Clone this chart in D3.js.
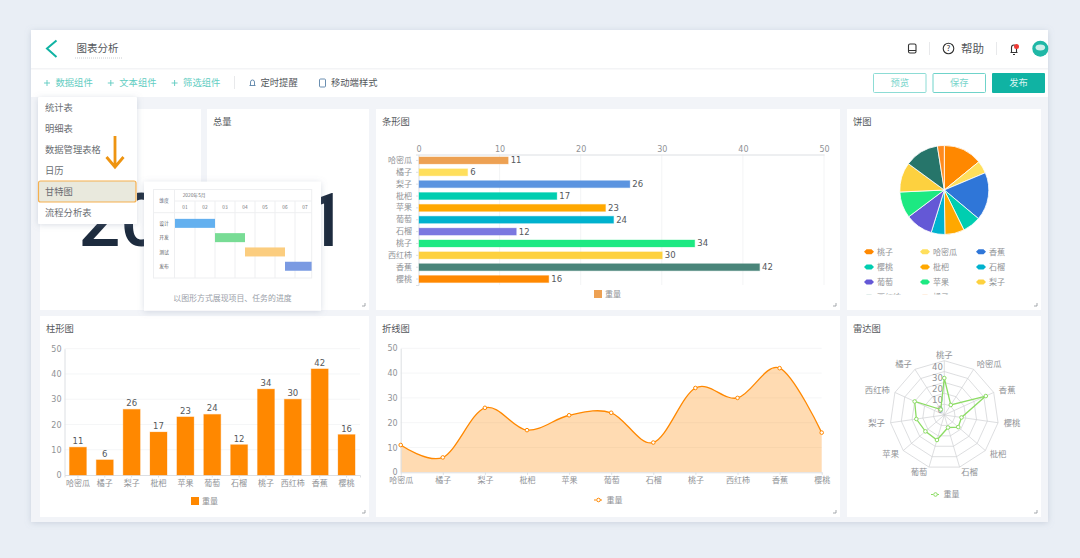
<!DOCTYPE html>
<html>
<head>
<meta charset="utf-8">
<script src="https://cdn.jsdelivr.net/npm/d3@7"></script>
<style>
  html, body { margin: 0; padding: 0; background: #e9eef5; overflow: hidden; }
  text { font-family: "DejaVu Sans", "Noto Sans CJK SC", sans-serif; }
  .cjk { font-family: "Noto Sans CJK SC", sans-serif; }
  .axis path, .axis line { stroke: #dcdfe3; }
  .axis text { fill: #8f9296; font-size: 8px; }
</style>
</head>
<body>
<svg id="page" width="1080" height="558"></svg>
<script>
// Data
var fruits = ["哈密瓜", "橘子", "梨子", "枇杷", "苹果", "葡萄", "石榴", "桃子", "西红柿", "香蕉", "樱桃"];
var weights = [11, 6, 26, 17, 23, 24, 12, 34, 30, 42, 16];
var barColors = ["#eda153", "#ffdf5c", "#5b94e0", "#00ceb0", "#ffa800", "#00b2ce", "#7b78e0", "#1de982", "#fdd13f", "#4a857a", "#ff8800"];

// pie and radar run in another order
var pieFruits = ["桃子", "哈密瓜", "香蕉", "樱桃", "枇杷", "石榴", "葡萄", "苹果", "梨子", "西红柿", "橘子"];
var pieWeights = [34, 11, 42, 16, 17, 12, 24, 23, 26, 30, 6];
var pieColors = ["#ff8800", "#ffdf5c", "#2f76d8", "#00ceb0", "#ffa800", "#00b2ce", "#6458d6", "#1de982", "#fdd13f", "#26756a", "#ff8a1e"];

var valueTicks = [0, 10, 20, 30, 40, 50];
var radarTicks = [0, 10, 20, 30, 40];

var ganttDays = ["01", "02", "03", "04", "05", "06", "07"];
var ganttTasks = ["设计", "开发", "测试", "发布"];
var ganttStart = [0, 2, 3.5, 5.5];
var ganttEnd = [2, 3.5, 5.5, 6.83];
var ganttColors = ["#63b0ef", "#78dc95", "#fbcd7f", "#7a9ae2"];

var menuItems = ["统计表", "明细表", "数据管理表格", "日历", "甘特图", "流程分析表"];
var toolAdd = ["数据组件", "文本组件", "筛选组件"];

var teal = "#10b3a3";
var svg = d3.select("#page");

function label(g, x, y, str, size, color, anchor) {
  return g.append("text")
    .attr("x", x)
    .attr("y", y)
    .attr("dy", "0.35em")
    .attr("class", "cjk")
    .attr("font-size", size)
    .attr("fill", color)
    .attr("text-anchor", anchor || "start")
    .text(str);
}

// Frame
var defs = svg.append("defs");
var soft = defs.append("filter").attr("id", "soft").attr("x", "-20%").attr("y", "-20%").attr("width", "140%").attr("height", "140%");
soft.append("feDropShadow").attr("dx", 0).attr("dy", 1).attr("stdDeviation", 3).attr("flood-color", "#8090a8").attr("flood-opacity", 0.3);

svg.append("rect").attr("x", 31).attr("y", 30).attr("width", 1017).attr("height", 492).attr("fill", "#f2f4f8").attr("filter", "url(#soft)");
svg.append("rect").attr("x", 31).attr("y", 30).attr("width", 1017).attr("height", 38).attr("fill", "#fff");
svg.append("rect").attr("x", 31).attr("y", 69).attr("width", 1017).attr("height", 28).attr("fill", "#fff");
svg.append("rect").attr("x", 31).attr("y", 68).attr("width", 1017).attr("height", 1.5).attr("fill", "#f3f4f6");

// Header
var header = svg.append("g");
header.append("path").attr("d", "M56.5 40.5L47 48.5L56.5 57").attr("fill", "none").attr("stroke", teal).attr("stroke-width", 2);
label(header, 76.5, 48.5, "图表分析", 10.5, "#55585c");
header.append("line").attr("x1", 75).attr("x2", 123).attr("y1", 58).attr("y2", 58).attr("stroke", "#c9cccf").attr("stroke-dasharray", "1 1");
header.append("rect").attr("x", 908.5).attr("y", 44).attr("width", 7.5).attr("height", 9).attr("rx", 1.5).attr("fill", "none").attr("stroke", "#333").attr("stroke-width", 1.1);
header.append("line").attr("x1", 908.5).attr("x2", 916).attr("y1", 50.5).attr("y2", 50.5).attr("stroke", "#333");
header.append("line").attr("x1", 929.5).attr("x2", 929.5).attr("y1", 42).attr("y2", 55).attr("stroke", "#e8e9eb");
header.append("circle").attr("cx", 948.5).attr("cy", 48.5).attr("r", 5.3).attr("fill", "none").attr("stroke", "#333").attr("stroke-width", 1.1);
label(header, 948.5, 48.5, "?", 8, "#333", "middle");
label(header, 961, 48.5, "帮助", 11.5, "#55585c");
header.append("line").attr("x1", 996.5).attr("x2", 996.5).attr("y1", 42).attr("y2", 55).attr("stroke", "#e8e9eb");
header.append("path").attr("d", "M1010.5 52.5h7M1011.5 52.5V47.5a2.5 2.5 0 0 1 5 0V52.5M1013 54.5h2").attr("fill", "none").attr("stroke", "#333").attr("stroke-width", 1.1);
header.append("circle").attr("cx", 1016.5).attr("cy", 46.5).attr("r", 2.5).attr("fill", "#ee3b36");
header.append("circle").attr("cx", 1040.3).attr("cy", 48.7).attr("r", 8).attr("fill", "#1fb7a6");
header.append("ellipse").attr("cx", 1040.3).attr("cy", 47.5).attr("rx", 4.8).attr("ry", 3).attr("fill", "#cfeeea");

// Toolbar
var toolbar = svg.append("g");
toolAdd.forEach(function(name, i) {
  var x = 44 + i * 63.8;
  toolbar.append("path").attr("d", "M" + x + " 83h6M" + (x + 3) + " 80v6").attr("stroke", "#5ccabf").attr("stroke-width", 0.9);
  label(toolbar, x + 11.5, 83, name, 9.3, "#62cdc2");
});
toolbar.append("line").attr("x1", 234.5).attr("x2", 234.5).attr("y1", 76).attr("y2", 89).attr("stroke", "#e8e9eb");
toolbar.append("path").attr("d", "M249.5 85.5h6M250.5 85.5V82a2 2 0 0 1 4 0V85.5").attr("fill", "none").attr("stroke", "#5a82a8").attr("stroke-width", 0.9);
label(toolbar, 260.5, 83, "定时提醒", 9.3, "#55585c");
toolbar.append("rect").attr("x", 319.5).attr("y", 79).attr("width", 6).attr("height", 8).attr("rx", 1).attr("fill", "none").attr("stroke", "#5a82a8").attr("stroke-width", 0.9);
label(toolbar, 331, 83, "移动端样式", 9.3, "#55585c");

var buttons = [["预览", 873.5, "#8ddcd5"], ["保存", 933, "#6fd3ca"]];
buttons.forEach(function(b) {
  toolbar.append("rect").attr("x", b[1]).attr("y", 73.5).attr("width", 52.5).attr("height", 19).attr("rx", 1).attr("fill", "#fff").attr("stroke", b[2]);
  label(toolbar, b[1] + 26.2, 83, b[0], 9.3, "#7ad5cc", "middle");
});
toolbar.append("rect").attr("x", 992).attr("y", 73).attr("width", 53).attr("height", 20).attr("rx", 1).attr("fill", teal);
label(toolbar, 1018.5, 83, "发布", 9.3, "#d8f3f0", "middle");

// Cards
var cards = [
  { x: 40, y: 109, w: 161, h: 201, title: "" },
  { x: 207, y: 109, w: 162, h: 201, title: "总量" },
  { x: 376, y: 109, w: 464, h: 201, title: "条形图" },
  { x: 847, y: 109, w: 194, h: 201, title: "饼图" },
  { x: 40, y: 316, w: 329, h: 201, title: "柱形图" },
  { x: 376, y: 316, w: 464, h: 201, title: "折线图" },
  { x: 847, y: 316, w: 194, h: 201, title: "雷达图" }
];
cards.forEach(function(c) {
  var g = svg.append("g");
  g.append("rect").attr("x", c.x).attr("y", c.y).attr("width", c.w).attr("height", c.h).attr("fill", "#fff");
  if (c.title) label(g, c.x + 6, c.y + 13, c.title, 9.3, "#55585c");
  var rx = c.x + c.w - 4, ry = c.y + c.h - 4;
  g.append("path").attr("d", "M" + (rx - 3) + " " + ry + "H" + rx + "V" + (ry - 3)).attr("fill", "none").attr("stroke", "#8f9499").attr("stroke-width", 0.8);
});

// Big total, partly hidden by the popup
svg.append("text").attr("x", 78.5).attr("y", 245.5).attr("font-size", 74).attr("font-weight", 500).attr("fill", "#1d2b3e").style("font-family", "Roboto, sans-serif").text("20");
svg.append("text").attr("x", 347).attr("y", 245.5).attr("font-size", 74).attr("font-weight", 500).attr("text-anchor", "end").attr("fill", "#1d2b3e").style("font-family", "Roboto, sans-serif").text("1");

// Horizontal bars
var barX = d3.scaleLinear().domain([0, 50]).range([418.5, 824]);
var barY = d3.scaleBand().domain(fruits).range([154.5, 285]);
var barG = svg.append("g");
barG.selectAll(".grid").data(valueTicks.slice(1)).enter().append("line")
  .attr("x1", d => barX(d)).attr("x2", d => barX(d))
  .attr("y1", 154.5).attr("y2", 285).attr("stroke", "#f3f4f5");
barG.append("g").attr("class", "axis").attr("transform", "translate(0,154.5)")
  .call(d3.axisTop(barX).tickValues(valueTicks).tickSize(0).tickPadding(3).tickSizeOuter(0));
barG.append("g").attr("class", "axis").attr("transform", "translate(418.5,0)")
  .call(d3.axisLeft(barY).tickSize(2.5).tickPadding(4).tickSizeOuter(2.5));
barG.selectAll(".bar").data(fruits).enter().append("rect")
  .attr("x", barX(0) + 0.5)
  .attr("y", d => barY(d) + barY.bandwidth() / 2 - 3.5)
  .attr("width", (d, i) => barX(weights[i]) - barX(0))
  .attr("height", 7)
  .attr("fill", (d, i) => barColors[i])
  .attr("stroke", (d, i) => barColors[i]).attr("stroke-opacity", 0.3);
barG.selectAll(".val").data(fruits).enter().append("text")
  .attr("x", (d, i) => barX(weights[i]) + 3)
  .attr("y", d => barY(d) + barY.bandwidth() / 2)
  .attr("dy", "0.35em")
  .attr("font-size", 8.5).attr("fill", "#55585c")
  .text((d, i) => weights[i]);
barG.append("rect").attr("x", 594).attr("y", 290).attr("width", 8).attr("height", 8).attr("fill", barColors[0]);
label(barG, 605, 294, "重量", 8, "#8f9296");

// Pie
var pieG = svg.append("g").attr("transform", "translate(944.3,190)");
var pie = d3.pie().sort(null)(pieWeights);
var arc = d3.arc().innerRadius(0).outerRadius(44.5);
pieG.selectAll("path").data(pie).enter().append("path")
  .attr("d", arc)
  .attr("fill", (d, i) => pieColors[i])
  .attr("stroke", "#fff").attr("stroke-width", 0.8);

// Pie legend is cut off after the third row
defs.append("clipPath").attr("id", "legendClip").append("rect").attr("x", 847).attr("y", 244).attr("width", 194).attr("height", 50.5);
var legendG = svg.append("g").attr("clip-path", "url(#legendClip)");
pieFruits.forEach(function(name, i) {
  var x = 869 + (i % 3) * 56;
  var y = 251.7 + Math.floor(i / 3) * 15.2;
  legendG.append("path")
    .attr("d", "M" + (x - 5) + " " + y + "l2.5 -2.5h5l2.5 2.5l-2.5 2.5h-5z")
    .attr("fill", pieColors[i]);
  label(legendG, x + 8, y, name, 8, "#8f9296");
});

// Columns
var colX = d3.scaleBand().domain(fruits).range([64.5, 360]);
var colY = d3.scaleLinear().domain([0, 50]).range([475, 348.7]);
var colG = svg.append("g");
colG.selectAll(".grid").data(valueTicks.slice(1)).enter().append("line")
  .attr("x1", 64.5).attr("x2", 360)
  .attr("y1", d => colY(d)).attr("y2", d => colY(d)).attr("stroke", "#f5f6f7");
colG.append("g").attr("class", "axis").attr("transform", "translate(64.5,0)")
  .call(d3.axisLeft(colY).tickValues(valueTicks).tickSize(0).tickPadding(3));
colG.append("g").attr("class", "axis").attr("transform", "translate(0,475)")
  .call(d3.axisBottom(colX).tickSize(2.5).tickPadding(3).tickSizeOuter(2.5));
colG.selectAll(".bar").data(fruits).enter().append("rect")
  .attr("x", d => colX(d) + colX.bandwidth() / 2 - 8.5)
  .attr("y", (d, i) => colY(weights[i]))
  .attr("width", 17)
  .attr("height", (d, i) => colY(0) - colY(weights[i]))
  .attr("fill", "#ff8800")
  .attr("stroke", "#ff8800").attr("stroke-opacity", 0.3);
colG.selectAll(".val").data(fruits).enter().append("text")
  .attr("x", d => colX(d) + colX.bandwidth() / 2)
  .attr("y", (d, i) => colY(weights[i]) - 3)
  .attr("text-anchor", "middle")
  .attr("font-size", 8.5).attr("fill", "#55585c")
  .text((d, i) => weights[i]);
colG.append("rect").attr("x", 191).attr("y", 497).attr("width", 8).attr("height", 8).attr("fill", "#ff8800");
label(colG, 202, 501, "重量", 8, "#8f9296");

// Line with area
var lineX = d3.scalePoint().domain(fruits).range([400.7, 821.7]);
var lineY = d3.scaleLinear().domain([0, 50]).range([472.3, 348.3]);
var lineG = svg.append("g");
lineG.selectAll(".grid").data(valueTicks.slice(1)).enter().append("line")
  .attr("x1", 400.7).attr("x2", 821.7)
  .attr("y1", d => lineY(d)).attr("y2", d => lineY(d)).attr("stroke", "#f5f6f7");
var curve = d3.curveCatmullRom.alpha(0);
lineG.append("path")
  .attr("d", d3.area().x((d, i) => lineX(fruits[i])).y0(lineY(0)).y1(d => lineY(d)).curve(curve)(weights))
  .attr("fill", "#ff8800").attr("fill-opacity", 0.3);
lineG.append("path")
  .attr("d", d3.line().x((d, i) => lineX(fruits[i])).y(d => lineY(d)).curve(curve)(weights))
  .attr("fill", "none").attr("stroke", "#ff8800").attr("stroke-width", 1.3);
lineG.append("g").attr("class", "axis").attr("transform", "translate(400.7,0)")
  .call(d3.axisLeft(lineY).tickValues(valueTicks).tickSize(0).tickPadding(3));
lineG.append("g").attr("class", "axis").attr("transform", "translate(0,472.3)")
  .call(d3.axisBottom(lineX).tickSize(2.5).tickPadding(3).tickSizeOuter(0));
lineG.selectAll(".pt").data(weights).enter().append("circle")
  .attr("cx", (d, i) => lineX(fruits[i]))
  .attr("cy", d => lineY(d))
  .attr("r", 1.8)
  .attr("fill", "#fff").attr("stroke", "#ff8800").attr("stroke-width", 1);
lineG.append("line").attr("x1", 594).attr("x2", 603).attr("y1", 500).attr("y2", 500).attr("stroke", "#ff8800").attr("stroke-width", 1).attr("stroke-dasharray", "2 1");
lineG.append("circle").attr("cx", 598.5).attr("cy", 500).attr("r", 1.8).attr("fill", "#fff").attr("stroke", "#ff8800").attr("stroke-width", 1);
label(lineG, 606.5, 500, "重量", 8, "#8f9296");

// Radar
var radarG = svg.append("g").attr("transform", "translate(944.3,415)");
var radarR = d3.scaleLinear().domain([0, 50]).range([0, 54.3]);
var step = 2 * Math.PI / pieFruits.length;
function spoke(i, r) {
  return [r * Math.sin(i * step), -r * Math.cos(i * step)];
}
valueTicks.slice(1).forEach(function(t) {
  radarG.append("path")
    .attr("d", d3.line()(pieFruits.map((d, i) => spoke(i, radarR(t)))) + "Z")
    .attr("fill", "none").attr("stroke", "#cfd0d2").attr("stroke-width", 0.7);
});
pieFruits.forEach(function(name, i) {
  var end = spoke(i, radarR(50));
  radarG.append("line").attr("x1", 0).attr("y1", 0).attr("x2", end[0]).attr("y2", end[1]).attr("stroke", "#cfd0d2").attr("stroke-width", 0.7);
  var p = spoke(i, 60);
  var anchor = i === 0 ? "middle" : (i < 6 ? "start" : "end");
  label(radarG, p[0], p[1], name, 8.3, "#8f9296", anchor);
});
radarTicks.forEach(function(t) {
  radarG.append("text").attr("x", -1.5).attr("y", -radarR(t) - 4.5).attr("dy", "0.35em")
    .attr("text-anchor", "end").attr("font-size", 8.5).attr("fill", "#8f9296").text(t);
});
var radarPts = pieWeights.map((d, i) => spoke(i, radarR(d)));
radarG.append("path").attr("d", d3.line()(radarPts) + "Z").attr("fill", "none").attr("stroke", "#8cdc64").attr("stroke-width", 1.3);
radarG.selectAll("circle").data(radarPts).enter().append("circle")
  .attr("cx", d => d[0]).attr("cy", d => d[1]).attr("r", 1.8)
  .attr("fill", "#fff").attr("stroke", "#8cdc64").attr("stroke-width", 1);
svg.append("line").attr("x1", 931).attr("x2", 940).attr("y1", 494.5).attr("y2", 494.5).attr("stroke", "#8cdc64").attr("stroke-dasharray", "2 1");
svg.append("circle").attr("cx", 935.5).attr("cy", 494.5).attr("r", 1.8).attr("fill", "#fff").attr("stroke", "#8cdc64").attr("stroke-width", 1);
label(svg, 943.5, 494.5, "重量", 8, "#8f9296");

// Dropdown menu
var menu = svg.append("g");
menu.append("rect").attr("x", 38).attr("y", 97).attr("width", 99).attr("height", 127).attr("rx", 1).attr("fill", "#fff").attr("filter", "url(#soft)");
menu.append("rect").attr("x", 38.5).attr("y", 181).attr("width", 97.5).attr("height", 21).attr("rx", 2)
  .attr("fill", "#e9e9dd").attr("stroke", "#f5b04f").attr("stroke-width", 1.2);
menuItems.forEach(function(name, i) {
  label(menu, 45, 107.5 + i * 21.1, name, 9.3, "#6a6d72");
});
var arrow = "M115 136V167M106.5 157L115 167L123.5 157";
menu.append("path").attr("d", arrow).attr("fill", "none").attr("stroke", "#fff").attr("stroke-width", 5.5);
menu.append("path").attr("d", arrow).attr("fill", "none").attr("stroke", "#ee9411").attr("stroke-width", 2.8);

// Gantt preview popup
var pop = svg.append("g");
pop.append("rect").attr("x", 144).attr("y", 181.7).attr("width", 177).attr("height", 129).attr("fill", "#fff").attr("filter", "url(#soft)");
var ganttX = d3.scaleLinear().domain([0, 7]).range([175, 315]);
var ganttY = d3.scaleBand().domain(ganttTasks).range([216.2, 273.4]);
var lineColor = "#eeeff1";
pop.append("rect").attr("x", 153.5).attr("y", 189.5).attr("width", 158.2).attr("height", 88.5).attr("fill", "none").attr("stroke", lineColor);
pop.append("line").attr("x1", 174.5).attr("x2", 311.7).attr("y1", 201).attr("y2", 201).attr("stroke", lineColor);
pop.append("line").attr("x1", 153.5).attr("x2", 311.7).attr("y1", 212.7).attr("y2", 212.7).attr("stroke", lineColor);
pop.append("line").attr("x1", 174.5).attr("x2", 174.5).attr("y1", 189.5).attr("y2", 278).attr("stroke", lineColor);
ganttDays.forEach(function(day, i) {
  if (i > 0) pop.append("line").attr("x1", ganttX(i)).attr("x2", ganttX(i)).attr("y1", 201).attr("y2", 278).attr("stroke", lineColor);
  label(pop, ganttX(i + 0.5), 207, day, 4.8, "#6f7378", "middle");
});
label(pop, 182.7, 195, "2020年5月", 4.8, "#6f7378");
label(pop, 164, 200.5, "维度", 4.8, "#5a6a80", "middle");
ganttTasks.forEach(function(name, i) {
  label(pop, 164, ganttY(name) + ganttY.bandwidth() / 2, name, 4.8, "#55585c", "middle");
  pop.append("rect")
    .attr("x", ganttX(ganttStart[i]))
    .attr("y", ganttY(name) + ganttY.bandwidth() / 2 - 4.5)
    .attr("width", ganttX(ganttEnd[i]) - ganttX(ganttStart[i]))
    .attr("height", 9)
    .attr("fill", ganttColors[i]);
});
label(pop, 232.5, 298, "以图形方式展现项目、任务的进度", 7.9, "#9aa0a8", "middle");
</script>
</body>
</html>
